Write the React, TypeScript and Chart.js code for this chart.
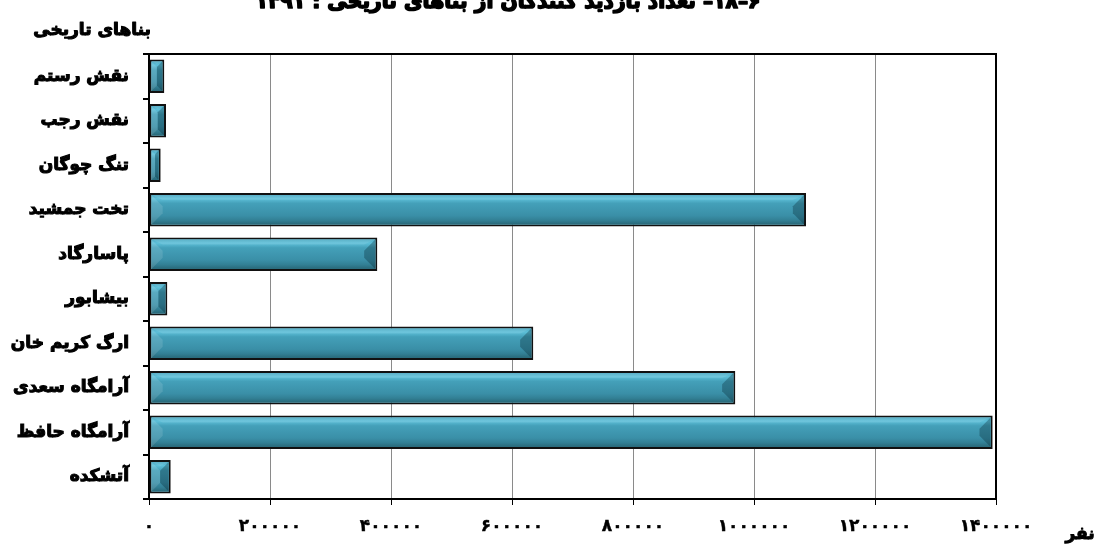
import React, { useEffect, useRef } from "react";
import { Chart, registerables } from "chart.js";

Chart.register(...registerables);

const categories = [
  "نقش رستم",
  "نقش رجب",
  "تنگ چوگان",
  "تخت جمشید",
  "پاسارگاد",
  "بیشابور",
  "ارگ کریم خان",
  "آرامگاه سعدی",
  "آرامگاه حافظ",
  "آتشکده",
];
const visitors = [25300, 28100, 19300, 1086000, 377400, 30300, 635200, 969100, 1394500, 35900];
const xMin = 0;
const xMax = 1400000;
const xStep = 200000;
const titleText = "۶–۱۸– تعداد بازدید کنندگان از بناهای تاریخی : ۱۳۹۱";
const yAxisTitle = "بناهای تاریخی";
const xAxisTitle = "نفر";

const FONT = "'DejaVu Sans', sans-serif";
const toPersian = (s: string) => s.replace(/\d/g, (d) => "۰۱۲۳۴۵۶۷۸۹"[Number(d)]);

const bevelPlugin = {
  id: "bevelBars",
  afterDatasetsDraw(chart: any) {
    const ctx = chart.ctx;
    const meta = chart.getDatasetMeta(0);
    meta.data.forEach((bar: any) => {
      const p = bar.getProps(["x", "y", "base", "height"], true);
      const bw = 2;
      const l = Math.min(p.base, p.x) + bw;
      const r = Math.max(p.base, p.x) - bw;
      const t = p.y - p.height / 2 + bw;
      const btm = p.y + p.height / 2 - bw;
      const w = r - l;
      const h = btm - t;
      if (w <= 0 || h <= 0) return;
      ctx.save();
      const g = ctx.createLinearGradient(0, t, 0, btm);
      g.addColorStop(0, "#4aa9c3");
      g.addColorStop(0.12, "#5ec0d9");
      g.addColorStop(0.28, "#44a0b9");
      g.addColorStop(0.7, "#3a8fa7");
      g.addColorStop(0.86, "#327f94");
      g.addColorStop(1, "#286878");
      ctx.fillStyle = g;
      ctx.fillRect(l, t, w, h);
      const b = Math.min(13, h * 0.38, w / 2);
      ctx.beginPath();
      ctx.moveTo(l, t);
      ctx.lineTo(l + b, t + b);
      ctx.lineTo(l + b, btm - b);
      ctx.lineTo(l, btm);
      ctx.closePath();
      ctx.fillStyle = "rgba(255,255,255,0.12)";
      ctx.fill();
      ctx.beginPath();
      ctx.moveTo(r, t);
      ctx.lineTo(r - b, t + b);
      ctx.lineTo(r - b, btm - b);
      ctx.lineTo(r, btm);
      ctx.closePath();
      ctx.fillStyle = "rgba(0,30,40,0.3)";
      ctx.fill();
      ctx.beginPath();
      ctx.moveTo(l, t);
      ctx.lineTo(r, t);
      ctx.lineTo(r - b, t + b * 0.45);
      ctx.lineTo(l + b, t + b * 0.45);
      ctx.closePath();
      ctx.fillStyle = "rgba(255,255,255,0.1)";
      ctx.fill();
      ctx.restore();
    });
  },
};

const heavyText = (ctx: any, text: string, x: number, y: number, sw: number) => {
  ctx.lineWidth = sw;
  ctx.strokeStyle = "#000";
  ctx.lineJoin = "round";
  ctx.strokeText(text, x, y);
  ctx.fillText(text, x, y);
};

const framePlugin = {
  id: "frameAndTitles",
  afterDraw(chart: any) {
    const ctx = chart.ctx;
    const ca = chart.chartArea;
    ctx.save();
    ctx.strokeStyle = "#000";
    ctx.lineWidth = 2;
    ctx.beginPath();
    ctx.moveTo(ca.left, ca.top);
    ctx.lineTo(ca.right, ca.top);
    ctx.lineTo(ca.right, ca.bottom);
    ctx.stroke();

    ctx.fillStyle = "#000";
    ctx.direction = "rtl";
    // main title (cropped at top)
    let size = 22;
    ctx.font = `bold ${size}px ${FONT}`;
    const tw = ctx.measureText(titleText).width;
    size = Math.max(12, Math.min(26, size * (505 / tw)));
    ctx.font = `bold ${size}px ${FONT}`;
    ctx.textAlign = "center";
    ctx.textBaseline = "alphabetic";
    heavyText(ctx, titleText, 508, 8, 1.6);

    // y axis title
    ctx.font = `bold 17px ${FONT}`;
    ctx.textAlign = "right";
    ctx.textBaseline = "middle";
    heavyText(ctx, yAxisTitle, 151, 31, 1.1);

    // x axis title
    ctx.font = `bold 17px ${FONT}`;
    ctx.textAlign = "center";
    heavyText(ctx, xAxisTitle, 1080, 535, 1.1);
    ctx.restore();
  },
};

export default function App() {
  const ref = useRef<HTMLCanvasElement | null>(null);
  useEffect(() => {
    document.body.style.margin = "0";
    const canvas = ref.current;
    if (!canvas) return;
    const chart = new Chart(canvas, {
      type: "bar",
      data: {
        labels: categories,
        datasets: [
          {
            data: visitors,
            backgroundColor: "#3a8fa7",
            borderColor: "#111",
            borderWidth: 2,
            borderSkipped: false,
            categoryPercentage: 1,
            barPercentage: 0.75,
          },
        ],
      },
      options: {
        indexAxis: "y",
        responsive: false,
        animation: false,
        devicePixelRatio: 1,
        layout: { padding: { left: 0, top: 54, right: 108, bottom: 0 } },
        plugins: {
          legend: { display: false },
          title: { display: false },
          tooltip: { enabled: false },
        },
        scales: {
          x: {
            type: "linear",
            min: xMin,
            max: xMax,
            ticks: {
              stepSize: xStep,
              color: "#000",
              padding: 11,
              textStrokeColor: "#000",
              textStrokeWidth: 0.4,
              font: { family: FONT, weight: "bold", size: 17 },
              callback: (v: any) => toPersian(String(v)),
            },
            grid: {
              color: "#8a8a8a",
              lineWidth: 1,
              tickColor: "#000",
              tickLength: 6,
              drawTicks: true,
            },
            border: { color: "#000", width: 2 },
            afterFit: (s: any) => {
              s.height = 54;
            },
          },
          y: {
            type: "category",
            offset: true,
            ticks: {
              color: "#000",
              padding: 14,
              textStrokeColor: "#000",
              textStrokeWidth: 1.1,
              font: { family: FONT, weight: "bold", size: 17 },
            },
            grid: {
              offset: true,
              drawOnChartArea: false,
              drawTicks: true,
              tickLength: 6,
              color: "#000",
              tickColor: "#000",
              lineWidth: 2,
            },
            border: { color: "#000", width: 2 },
            afterFit: (s: any) => {
              s.width = 149;
            },
          },
        },
      },
      plugins: [bevelPlugin, framePlugin],
    });
    return () => chart.destroy();
  }, []);
  return (
    <div style={{ width: 1104, height: 553 }}>
      <canvas ref={ref} width={1104} height={553} style={{ display: "block" }} />
    </div>
  );
}
